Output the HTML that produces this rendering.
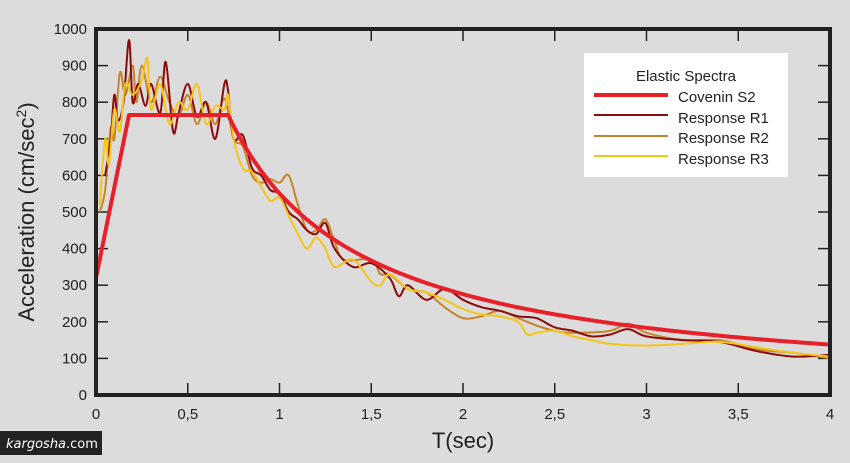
<!DOCTYPE html>
<html><head><meta charset="utf-8"><style>
body{margin:0;background:#dcdcdc;width:850px;height:463px;overflow:hidden}
svg{display:block;font-family:"Liberation Sans",sans-serif}
</style></head><body>
<svg id="s" width="850" height="463" xmlns="http://www.w3.org/2000/svg">
<rect width="850" height="463" fill="#dcdcdc"/>
<g id="ticks" stroke="#222" stroke-width="1.5"></g>
<g id="lab" font-size="15" fill="#222"></g>
<g id="series" fill="none" stroke-linejoin="round"></g>
<rect x="96" y="29" width="734" height="366" fill="none" stroke="#222" stroke-width="4"/>
<text transform="translate(34,212) rotate(-90)" text-anchor="middle" font-size="22" fill="#222">Acceleration (cm/sec<tspan font-size="14" dy="-8">2</tspan><tspan dy="8">)</tspan></text>
<text x="463" y="448" text-anchor="middle" font-size="22" fill="#222">T(sec)</text>
<rect x="584" y="53" width="204" height="124" fill="#fff"/>
<g font-size="15" fill="#222">
<text x="686" y="81" text-anchor="middle">Elastic Spectra</text>
<text x="678" y="102">Covenin S2</text>
<text x="678" y="123">Response R1</text>
<text x="678" y="143">Response R2</text>
<text x="678" y="164">Response R3</text>
</g>
<line x1="594" y1="95" x2="668" y2="95" stroke="#e8202a" stroke-width="4"/>
<line x1="594" y1="115" x2="668" y2="115" stroke="#8b0a0a" stroke-width="2"/>
<line x1="594" y1="136" x2="668" y2="136" stroke="#c8842a" stroke-width="2"/>
<line x1="594" y1="156" x2="668" y2="156" stroke="#f5c518" stroke-width="2"/>
<rect x="0" y="431" width="102" height="24" fill="#222"/>
<text x="6" y="448" font-size="13" fill="#fff" font-style="italic" font-family="DejaVu Sans,sans-serif">kargosha<tspan font-style="normal">.com</tspan></text>
</svg>
<script>
const X=t=>96+t*183.5, Y=v=>395-v*0.366;
const ns="http://www.w3.org/2000/svg";
function el(p,tag,a,txt){const e=document.createElementNS(ns,tag);for(const k in a)e.setAttribute(k,a[k]);if(txt!==undefined)e.textContent=txt;document.getElementById(p).appendChild(e);}
for(let v=0;v<=1000;v+=100){const y=Y(v);
 if(v>0&&v<1000){el("ticks","line",{x1:96,y1:y,x2:108,y2:y});el("ticks","line",{x1:830,y1:y,x2:818,y2:y});}
 el("lab","text",{x:87,y:y+5,"text-anchor":"end"},v);}
for(let i=0;i<=8;i++){const t=i*0.5,x=X(t);
 if(i>0&&i<8){el("ticks","line",{x1:x,y1:395,x2:x,y2:383});el("ticks","line",{x1:x,y1:29,x2:x,y2:41});}
 el("lab","text",{x:x,y:419,"text-anchor":"middle"},(t+"").replace(".",","));}
function path(pts,col,w,smooth){const P=pts.map(p=>[X(p[0]),Y(p[1])]);let d="M"+P[0][0].toFixed(1)+","+P[0][1].toFixed(1);
 for(let i=0;i<P.length-1;i++){const p0=P[Math.max(0,i-1)],p1=P[i],p2=P[i+1],p3=P[Math.min(P.length-1,i+2)];
  if(smooth){const c1=[p1[0]+(p2[0]-p0[0])/6,p1[1]+(p2[1]-p0[1])/6],c2=[p2[0]-(p3[0]-p1[0])/6,p2[1]-(p3[1]-p1[1])/6];
   d+="C"+c1.map(v=>v.toFixed(1))+" "+c2.map(v=>v.toFixed(1))+" "+p2.map(v=>v.toFixed(1));}
  else d+="L"+p2.map(v=>v.toFixed(1));}
 el("series","path",{d:d,stroke:col,"stroke-width":w});}
function arr(a){const r=[];for(let i=0;i<a.length;i+=2)r.push([a[i],a[i+1]]);return r;}
const R1=arr([0.05,600,0.08,700,0.1,820,0.12,750,0.15,800,0.18,970,0.2,800,0.23,850,0.27,790,0.3,850,0.35,770,0.38,910,0.42,720,0.45,770,0.5,850,0.55,760,0.6,800,0.65,700,0.7,850,0.72,830,0.75,700,0.8,710,0.85,620,0.9,600,0.95,560,1.0,550,1.05,500,1.1,480,1.15,450,1.2,440,1.25,470,1.3,400,1.4,350,1.5,360,1.6,320,1.65,270,1.7,300,1.8,260,1.9,290,2.0,260,2.1,240,2.2,230,2.3,215,2.4,210,2.5,185,2.6,175,2.7,160,2.8,165,2.9,180,3.0,160,3.2,150,3.4,145,3.6,120,3.8,105,4.0,110]);
const R2=arr([0.02,500,0.05,560,0.08,730,0.1,700,0.13,880,0.16,820,0.2,900,0.22,800,0.25,900,0.3,800,0.35,870,0.4,800,0.45,760,0.5,820,0.55,740,0.6,800,0.65,740,0.7,810,0.75,700,0.8,680,0.85,600,0.9,580,0.95,590,1.0,580,1.05,600,1.1,520,1.15,450,1.2,450,1.25,480,1.3,420,1.35,370,1.5,370,1.55,330,1.6,330,1.7,290,1.8,280,1.9,240,2.0,210,2.1,215,2.2,230,2.3,210,2.4,190,2.5,175,2.6,170,2.8,175,2.9,195,3.0,170,3.2,150,3.4,150,3.6,125,3.8,115,4.0,100]);
const R3=arr([0.02,520,0.05,700,0.07,630,0.1,780,0.13,720,0.16,850,0.2,820,0.25,860,0.28,920,0.3,780,0.35,850,0.4,740,0.45,800,0.5,780,0.55,850,0.6,740,0.65,790,0.7,780,0.72,820,0.75,700,0.8,620,0.85,610,0.9,570,0.95,530,1.0,540,1.05,490,1.1,440,1.15,400,1.2,430,1.25,400,1.3,350,1.4,370,1.5,310,1.55,300,1.6,330,1.7,290,1.8,280,1.9,260,2.0,235,2.1,220,2.2,215,2.3,200,2.35,165,2.4,170,2.5,175,2.6,160,2.7,150,2.8,140,3.0,135,3.2,140,3.4,145,3.6,130,3.8,115,4.0,105]);
path(R2,"#c8842a",2,true);path(R1,"#8b0a0a",2,true);path(R3,"#f5c518",2,true);
const C=[[0,320],[0.18,765],[0.72,765]];for(let t=0.75;t<=4.001;t+=0.05)C.push([t,765*0.72/t]);
path(C,"#e8202a",4,false);
</script>
</body></html>
